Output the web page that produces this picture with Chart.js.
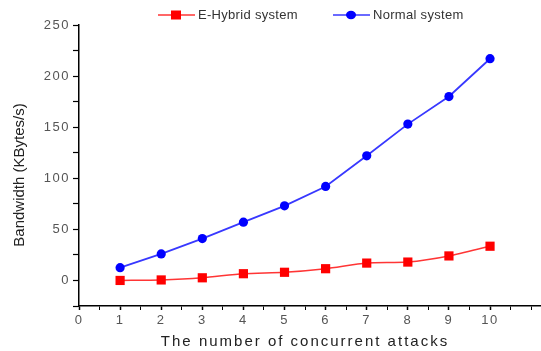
<!DOCTYPE html>
<html>
<head>
<meta charset="utf-8">
<script src="https://cdn.jsdelivr.net/npm/chart.js@4.4.0/dist/chart.umd.min.js"></script>
<style>
  html, body { margin: 0; padding: 0; background: #fff; }
  #wrap { position: relative; width: 541px; height: 351px; }
</style>
</head>
<body>
<div id="wrap"><canvas id="c" width="541" height="351"></canvas></div>
<script>
// data
const attacks  = [1, 2, 3, 4, 5, 6, 7, 8, 9, 10];
const hybrid   = [0, 0.5, 2.6, 6.6, 8, 11.5, 17, 18, 24, 33.5];
const normal   = [12.5, 26, 41, 57, 73, 92, 122, 153, 180, 217];
const xTicks   = [0, 1, 2, 3, 4, 5, 6, 7, 8, 9, 10];
const yTicks   = [0, 50, 100, 150, 200, 250];

const seriesNames = ['E-Hybrid system', 'Normal system'];
const xTitle = 'The number of concurrent attacks';
const yTitle = 'Bandwidth (KBytes/s)';

const FONT = '"Liberation Sans", Arial, sans-serif';
const toPts = vals => attacks.map((x, i) => ({ x, y: vals[i] }));

// the source picture is stretched sideways, so text gets some letter spacing
const wideText = {
  id: 'wideText',
  beforeDraw(chart) { chart.ctx.letterSpacing = '1.5px'; },
  afterDraw(chart) {
    const c = chart.ctx;
    c.save();

    // legend: line + marker + label
    const items = [
      { x: 158, ds: chart.data.datasets[0] },
      { x: 333, ds: chart.data.datasets[1] },
    ];
    const y = 15;
    items.forEach(it => {
      c.strokeStyle = it.ds.borderColor;
      c.lineWidth = 1.5;
      c.beginPath(); c.moveTo(it.x, y); c.lineTo(it.x + 37, y); c.stroke();
      c.fillStyle = it.ds.pointBackgroundColor;
      if (it.ds.pointStyle === 'rect') {
        c.fillRect(it.x + 13, y - 4.5, 10, 9);
      } else {
        c.beginPath(); c.ellipse(it.x + 18, y, 5, 4.2, 0, 0, Math.PI * 2); c.fill();
      }
      c.fillStyle = '#333';
      c.font = '13px ' + FONT;
      c.letterSpacing = '0.3px';
      c.textAlign = 'left';
      c.textBaseline = 'middle';
      c.fillText(it.ds.label, it.x + 40, y + 0.5);
    });

    // axis titles
    c.fillStyle = '#222';
    c.textAlign = 'center';
    c.textBaseline = 'middle';
    c.font = '15px ' + FONT;
    c.letterSpacing = '2px';
    c.fillText(xTitle, 305, 342);

    c.letterSpacing = '0px';
    c.translate(20, 175);
    c.rotate(-Math.PI / 2);
    c.fillText(yTitle, 0, 0);
    c.restore();
    c.letterSpacing = '0px';
  }
};

new Chart(document.getElementById('c'), {
  type: 'line',
  data: {
    datasets: [
      {
        label: seriesNames[0],
        data: toPts(hybrid),
        borderColor: '#ff3535',
        backgroundColor: '#ff0000',
        pointBackgroundColor: '#ff0000',
        pointBorderColor: '#ff0000',
        pointStyle: 'rect',
        pointRadius: 6.5,
        pointBorderWidth: 0,
        borderWidth: 1.5,
        tension: 0.25,
      },
      {
        label: seriesNames[1],
        data: toPts(normal),
        borderColor: '#3838ff',
        backgroundColor: '#0000ff',
        pointBackgroundColor: '#0000ff',
        pointBorderColor: '#0000ff',
        pointStyle: 'circle',
        pointRadius: 4.6,
        pointBorderWidth: 0,
        borderWidth: 1.8,
        tension: 0,
      },
    ],
  },
  options: {
    responsive: false,
    animation: false,
    layout: { autoPadding: false, padding: { top: 25, right: 0, left: 0, bottom: 0 } },
    plugins: { legend: { display: false }, tooltip: { enabled: false } },
    scales: {
      x: {
        type: 'linear',
        min: 0,
        max: 11.24,
        afterFit: s => { s.height = 45; },
        afterBuildTicks: s => {
          const t = [];
          for (let v = 0; v <= 11; v += 0.5) t.push({ value: v });
          s.ticks = t;
        },
        border: { display: true, color: '#000', width: 1.5 },
        grid: {
          drawOnChartArea: false,
          drawTicks: true,
          tickLength: 4,
          tickColor: '#000',
          tickWidth: ctx => (xTicks.includes(ctx.tick && ctx.tick.value) ? 1.5 : 1),
        },
        ticks: {
          autoSkip: false,
          maxRotation: 0,
          padding: 3,
          color: '#555',
          font: { family: FONT, size: 13 },
          callback: v => (xTicks.includes(v) ? String(v) : ''),
        },
      },
      y: {
        type: 'linear',
        min: -25,
        max: 250,
        afterFit: s => { s.width = 79; },
        afterBuildTicks: s => {
          const t = [];
          for (let v = -25; v <= 250; v += 25) t.push({ value: v });
          s.ticks = t;
        },
        border: { display: true, color: '#000', width: 1.5 },
        grid: {
          drawOnChartArea: false,
          drawTicks: true,
          tickLength: 6,
          tickColor: '#000',
          tickWidth: 1.2,
        },
        ticks: {
          autoSkip: false,
          padding: 3,
          color: '#555',
          font: { family: FONT, size: 13 },
          callback: v => (yTicks.includes(v) ? String(v) : ''),
        },
      },
    },
  },
  plugins: [wideText],
});
</script>
</body>
</html>
